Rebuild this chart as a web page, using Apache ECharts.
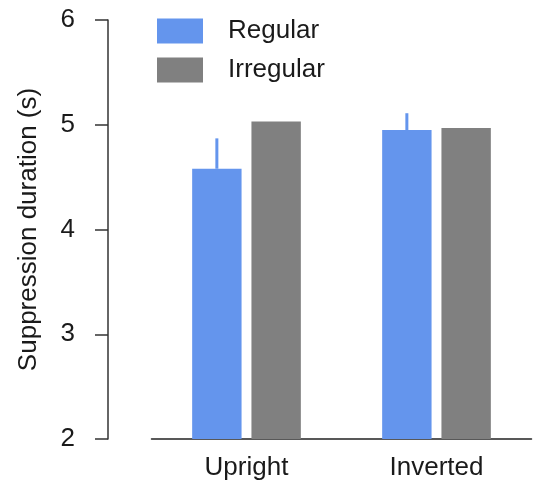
<!DOCTYPE html>
<html>
<head>
<meta charset="utf-8">
<script src="https://cdn.jsdelivr.net/npm/echarts@6/dist/echarts.min.js"></script>
<style>html,body{margin:0;padding:0;background:#fff;}#c{width:542px;height:489px;}</style>
</head>
<body>
<div id="c"></div>
<script>
var categories = ['Upright', 'Inverted'];
var regular = [4.58, 4.95];
var irregular = [5.03, 4.97];
var regularErrTop = [4.87, 5.11];
var yTicks = [2, 3, 4, 5, 6];

var BLUE = '#6495ED', GRAY = '#808080', FONT = '"Liberation Sans", Arial, sans-serif';
var BAR_FRAC = 0.26, GAP_FRAC = 0.2;

var chart = echarts.init(document.getElementById('c'));
chart.setOption({
  backgroundColor: '#fff',
  animation: false,
  grid: { left: 151.5, right: 10.5, top: 20, bottom: 50 },
  legend: {
    left: 157, top: 18, orient: 'vertical', padding: 0,
    itemWidth: 46, itemHeight: 25, itemGap: 13,
    textStyle: { fontSize: 26, fontFamily: FONT, color: '#1a1a1a', padding: [0, 0, 0, 20] },
    data: [{ name: 'Regular', icon: 'rect' }, { name: 'Irregular', icon: 'rect' }]
  },
  xAxis: {
    type: 'category', data: categories,
    axisLine: { lineStyle: { color: '#222', width: 1.5 } },
    axisTick: { show: false },
    axisLabel: { fontSize: 26, fontFamily: FONT, color: '#1a1a1a', margin: 16 }
  },
  yAxis: {
    type: 'value', min: yTicks[0], max: yTicks[yTicks.length - 1], interval: 1,
    offset: 43.5,
    name: 'Suppression duration (s)', nameLocation: 'middle', nameGap: 66,
    nameTextStyle: { fontSize: 26, fontFamily: FONT, color: '#1a1a1a' },
    axisLine: { show: true, lineStyle: { color: '#333', width: 1.5 } },
    axisTick: { show: true, length: 13, lineStyle: { color: '#333', width: 1.5 } },
    axisLabel: { fontSize: 26, fontFamily: FONT, color: '#1a1a1a', margin: 33 },
    splitLine: { show: false }
  },
  series: [
    { name: 'Regular', type: 'bar', data: regular, itemStyle: { color: BLUE },
      barWidth: (BAR_FRAC * 100) + '%', barGap: (GAP_FRAC * 100) + '%' },
    { name: 'Irregular', type: 'bar', data: irregular, itemStyle: { color: GRAY },
      barWidth: (BAR_FRAC * 100) + '%' },
    { name: 'err', type: 'custom', z: 1,
      data: regular.map(function (v, i) { return [i, v, regularErrTop[i]]; }),
      renderItem: function (params, api) {
        var band = api.size([1, 0])[0];
        var bw = band * BAR_FRAC, gap = bw * GAP_FRAC;
        var off = -(bw + gap) / 2;
        var p0 = api.coord([api.value(0), api.value(1)]);
        var p1 = api.coord([api.value(0), api.value(2)]);
        return { type: 'line', shape: { x1: p0[0] + off, y1: p0[1], x2: p1[0] + off, y2: p1[1] },
          style: { stroke: BLUE, lineWidth: 3 } };
      }
    }
  ]
});
</script>
</body>
</html>
